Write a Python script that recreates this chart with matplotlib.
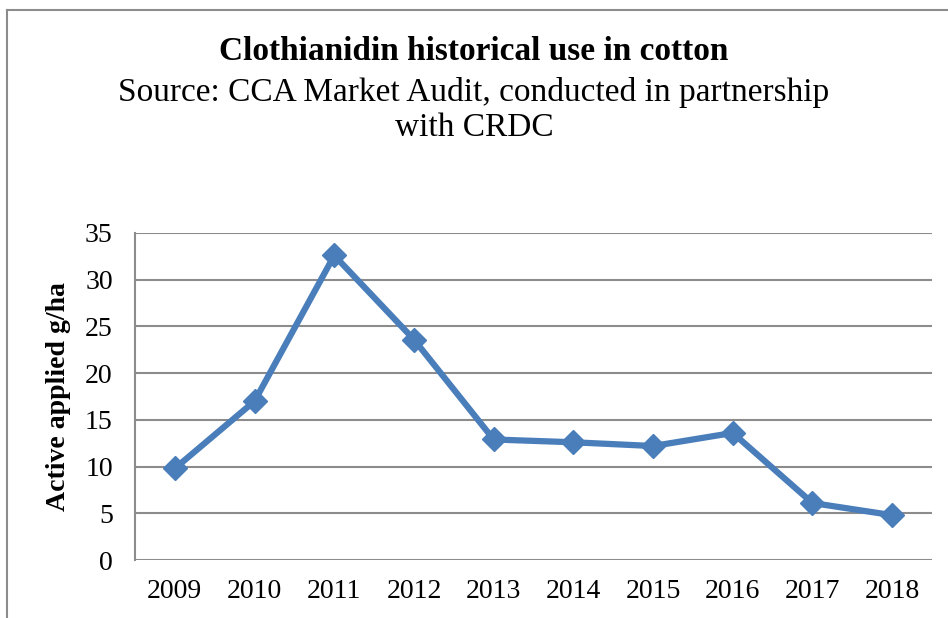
import matplotlib
matplotlib.use("Agg")
import matplotlib.pyplot as plt

years = ["2009", "2010", "2011", "2012", "2013", "2014", "2015", "2016", "2017", "2018"]
values = [9.8, 17.0, 32.6, 23.6, 12.9, 12.6, 12.2, 13.6, 6.1, 4.8]
yticks = [0, 5, 10, 15, 20, 25, 30, 35]

plt.rcParams['font.family'] = ['Liberation Serif', 'DejaVu Serif']

fig = plt.figure(figsize=(9.48, 6.18), dpi=100)
fig.patch.set_facecolor('white')

# outer chart border (partially cropped in reference)
fig.add_artist(plt.Line2D([7/948, 7/948], [0, 1 - 10/618], transform=fig.transFigure, color='#8c8c8c', lw=1.5))
fig.add_artist(plt.Line2D([7/948, 1], [1 - 10/618, 1 - 10/618], transform=fig.transFigure, color='#8c8c8c', lw=1.5))

ax = fig.add_axes([135/948, 1 - 560/618, (932 - 135)/948, (560 - 233)/618])
x = list(range(len(years)))
ax.plot(x, values, color='#4a7ebb', lw=4.5, marker='D', markersize=12, solid_joinstyle='round')
ax.set_xlim(-0.5, len(years) - 0.5)
ax.set_ylim(0, 35)
ax.set_yticks(yticks)
ax.set_xticks(x)
ax.set_xticklabels(years)
ax.grid(axis='y', color='#8c8c8c', lw=1.5)
ax.set_axisbelow(True)
for s in ['top', 'right', 'bottom']:
    ax.spines[s].set_visible(False)
ax.spines['left'].set_color('#8c8c8c')
ax.spines['left'].set_linewidth(1.5)
ax.tick_params(axis='both', length=0, labelsize=20)
ax.tick_params(axis='y', pad=16)
ax.tick_params(axis='x', pad=14)
ax.set_ylabel("Active applied g/ha", fontsize=20, fontweight='bold', labelpad=10)

fig.text(0.5, 1 - 51/618, "Clothianidin historical use in cotton", ha='center', va='center', fontsize=24, fontweight='bold')
fig.text(0.5, 1 - 110/618, "Source: CCA Market Audit, conducted in partnership\nwith CRDC", ha='center', va='center', fontsize=24, linespacing=1.2)

fig.savefig("out.png", dpi=100)
